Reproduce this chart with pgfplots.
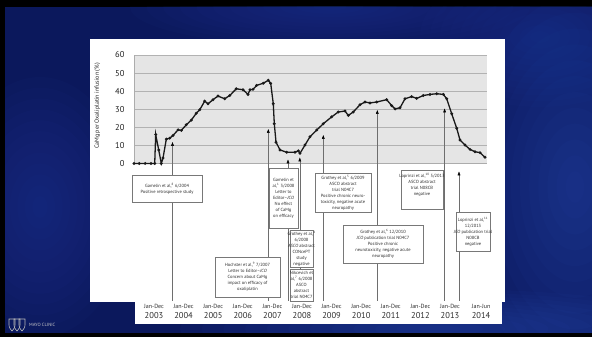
\documentclass[border=0pt]{standalone}
\usepackage{pgfplots}
\pgfplotsset{compat=1.18}
\usepackage{fontspec}
\setmainfont{PT Sans}
\usetikzlibrary{arrows.meta}
\definecolor{navy}{RGB}{11,24,92}
\definecolor{glowA}{RGB}{48,80,185}
\definecolor{glowB}{RGB}{36,62,160}
\definecolor{plotbg}{RGB}{229,229,229}
\definecolor{gridc}{RGB}{178,178,178}
\definecolor{boxtext}{RGB}{45,45,45}
\definecolor{boxline}{RGB}{120,120,120}
\definecolor{ptr}{RGB}{110,110,110}
\newcommand\boxfont{\fontsize{4.5}{6}\selectfont}
\newcommand\yearfont{\fontsize{8.5}{10.5}\selectfont}
% soft glow: stacked translucent ellipses
\newcommand\glow[5]{% color, cx, cy, rx, ry
  \foreach \k in {1,...,12}{\fill[#1, opacity=0.055] (#2,#3) ellipse ({#4*\k/12} and {#5*\k/12});}}

\pgfplotstableread{
t val
2002.824 0
2003.000 0
2003.200 0
2003.400 0
2003.524 0
2003.557 16
2003.659 7.5
2003.747 0
2003.804 3
2003.916 13.5
2004.030 14
2004.142 15.5
2004.311 18.6
2004.422 18.3
2004.591 21.4
2004.760 24
2004.929 27.8
2005.044 29.7
2005.213 34.5
2005.324 33
2005.493 35.3
2005.662 37.3
2005.889 35.8
2006.057 37.6
2006.280 41.3
2006.507 40.8
2006.676 38.2
2006.743 40.8
2006.845 41
2006.970 43.2
2007.193 44.4
2007.361 46
2007.443 44.3
2007.530 33
2007.564 22
2007.622 11.8
2007.757 7.5
2007.983 6.2
2008.264 6.2
2008.375 7
2008.432 5.6
2008.601 10.2
2008.770 14.8
2008.997 18.5
2009.220 22
2009.503 25.8
2009.726 28.5
2009.953 29
2010.064 26.6
2010.233 28.5
2010.459 32.5
2010.628 34
2010.797 33.5
2011.024 34
2011.361 35.3
2011.530 32
2011.642 30.2
2011.811 30.8
2011.980 35.8
2012.206 37
2012.375 36
2012.598 37.6
2012.824 38.2
2013.051 38.6
2013.274 38.2
2013.389 35.8
2013.557 27.5
2013.726 19.5
2013.838 13
2014.007 10.2
2014.176 7.8
2014.345 6.5
2014.514 6
2014.682 3.4
}\camg

\begin{document}
\begin{tikzpicture}[x=1pt,y=1pt]
% slide background
\fill[black] (0,0) rectangle (592,337);
\fill[navy] (5,4) rectangle (592,330);
\begin{scope}
\clip (5,4) rectangle (592,330);
\glow{glowA}{575}{150}{110}{190}
\glow{glowB}{540}{300}{120}{70}
\glow{glowB}{40}{130}{90}{130}
\glow{glowA}{440}{8}{260}{40}
\glow{glowB}{330}{330}{200}{40}
\end{scope}
% white panels
\fill[white] (90,35) rectangle (505,298);
\fill[white] (135,13) rectangle (502,37);

\begin{axis}[
  at={(134pt,173.5pt)}, anchor=south west,
  scale only axis, width=353pt, height=108.5pt,
  xmin=2002.824, xmax=2014.75, ymin=0, ymax=60,
  clip=false,
  axis background/.style={fill=plotbg},
  axis x line*=bottom, axis y line*=left,
  axis line style={draw=gray!65, line width=0.4pt, -},
  ytick={0,10,20,30,40,50,60},
  ymajorgrids, grid style={draw=gridc, line width=0.9pt},
  major tick length=0pt, tick style={draw=none},
  /pgf/number format/assume math mode=true,
  yticklabel style={font=\fontsize{8.5}{9}\selectfont, text=gray!25!black, xshift=-6pt},
  ylabel={CaMg per Oxaliplatin infusion (\%)},
  every axis y label/.style={at={(axis description cs:-0.104,0.53)}, rotate=90, anchor=center,
     font=\fontsize{6}{7}\selectfont, text=gray!25!black},
  xtick={2003.5,2004.5,2005.5,2006.5,2007.5,2008.5,2009.5,2010.5,2011.5,2012.5,2013.5,2014.55},
  xticklabels={
    {Jan-Dec\\{\yearfont 2003}},{Jan-Dec\\{\yearfont 2004}},{Jan-Dec\\{\yearfont 2005}},
    {Jan-Dec\\{\yearfont 2006}},{Jan-Dec\\{\yearfont 2007}},{Jan-Dec\\{\yearfont 2008}},
    {Jan-Dec\\{\yearfont 2009}},{Jan-Dec\\{\yearfont 2010}},{Jan-Dec\\{\yearfont 2011}},
    {Jan-Dec\\{\yearfont 2012}},{Jan-Dec\\{\yearfont 2013}},{Jan-Jun\\{\yearfont 2014}}},
  xticklabel style={align=center, font=\fontsize{6}{10.5}\selectfont, text=gray!35!black, yshift=-137pt},
]
\addplot[black!90, line width=1.3pt, mark=*, mark size=0.7pt] table[x=t, y=val] {\camg};
\end{axis}

% annotations (pixel coordinates, y downward)
\begin{scope}[shift={(0,337)}, yscale=-1]
\tikzset{ptrline/.style={draw=ptr, line width=0.5pt, -{Triangle[length=4pt,width=2.8pt,color=black]}},
         abox/.style={draw=boxline, line width=0.5pt, fill=white},
         atext/.style={font=\boxfont, align=center, text=boxtext, inner sep=0pt}}
\draw[ptrline] (172.5,301) -- (172.5,142);
\draw[ptrline] (268.3,301) -- (268.3,129);
\draw[ptrline] (288.0,301) -- (288.0,159.5);
\draw[ptrline] (299.8,301) -- (299.8,157.5);
\draw[ptrline] (323.3,301) -- (323.3,135);
\draw[ptrline] (377.3,301) -- (377.3,110);
\draw[ptrline] (444.6,301) -- (444.6,108.5);
\draw[ptrline] (459.0,301) -- (459.0,171.5);

\draw[abox] (132,175) rectangle (202,202);
\node[atext] at (167,188.5) {Gamelin et al,\textsuperscript{8} 6/2004\\Positive retrospective study};

\draw[abox] (215,257) rectangle (280,297);
\node[atext] at (247.5,277) {Hochster et al,\textsuperscript{9} 7/2007\\Letter to Editor--\textit{JCO}\\Concern about CaMg\\impact on efficacy of\\oxaliplatin};

\draw[abox] (269,168) rectangle (298,228);
\node[atext] at (283.5,198) {Gamelin et\\al,\textsuperscript{1} 3/2008\\Letter to\\Editor--\textit{JCO}\\No effect\\of CaMg\\on efficacy};

\draw[abox] (290,230) rectangle (313,267);
\node[atext] at (301.5,248.5) {Grothey et al,\textsuperscript{4}\\6/2008\\\textit{ASCO} abstract\\CONcePT\\study\\negative};

\draw[abox] (290,269) rectangle (313,301);
\node[atext] at (301.5,285) {Nikcevich et\\al,\textsuperscript{7} 6/2008\\ASCO\\abstract\\trial N04C7};

\draw[abox] (315,173) rectangle (371,212);
\node[atext] at (343,192.5) {Grothey et al,\textsuperscript{5} 6/2009\\ASCO abstract\\trial N04C7\\Positive chronic neuro-\\toxicity, negative acute\\neuropathy};

\draw[abox] (343,225) rectangle (423,263);
\node[atext] at (383,244) {Grothey et al,\textsuperscript{6} 12/2010\\\textit{JCO} publication trial N04C7\\Positive chronic\\neurotoxicity, negative acute\\neuropathy};

\draw[abox] (401,170) rectangle (443,209);
\node[atext] at (422,185) {Loprinzi et al,\textsuperscript{10} 5/2013\\ASCO abstract\\trial N08CB\\negative};

\draw[abox] (456,212) rectangle (490,251);
\node[atext] at (473,231.5) {Loprinzi et al,\textsuperscript{11}\\12/2013\\\textit{JCO} publication trial\\N08CB\\negative};

% logo
\begin{scope}[draw=gray!55, line width=0.6pt]
\draw (9,319) -- (15,319) -- (15,325) .. controls (15,329) and (12,330) .. (12,331) .. controls (12,330) and (9,329) .. (9,325) -- cycle;
\draw (14,319) -- (20,319) -- (20,325) .. controls (20,329) and (17,330) .. (17,331) .. controls (17,330) and (14,329) .. (14,325) -- cycle;
\draw (19,319) -- (25,319) -- (25,325) .. controls (25,329) and (22,330) .. (22,331) .. controls (22,330) and (19,329) .. (19,325) -- cycle;
\end{scope}
\node[font=\fontsize{4.6}{5}\selectfont, text=gray!45, anchor=west, inner sep=0pt] at (29,324.5) {MAYO CLINIC};
\end{scope}
\end{tikzpicture}
\end{document}
